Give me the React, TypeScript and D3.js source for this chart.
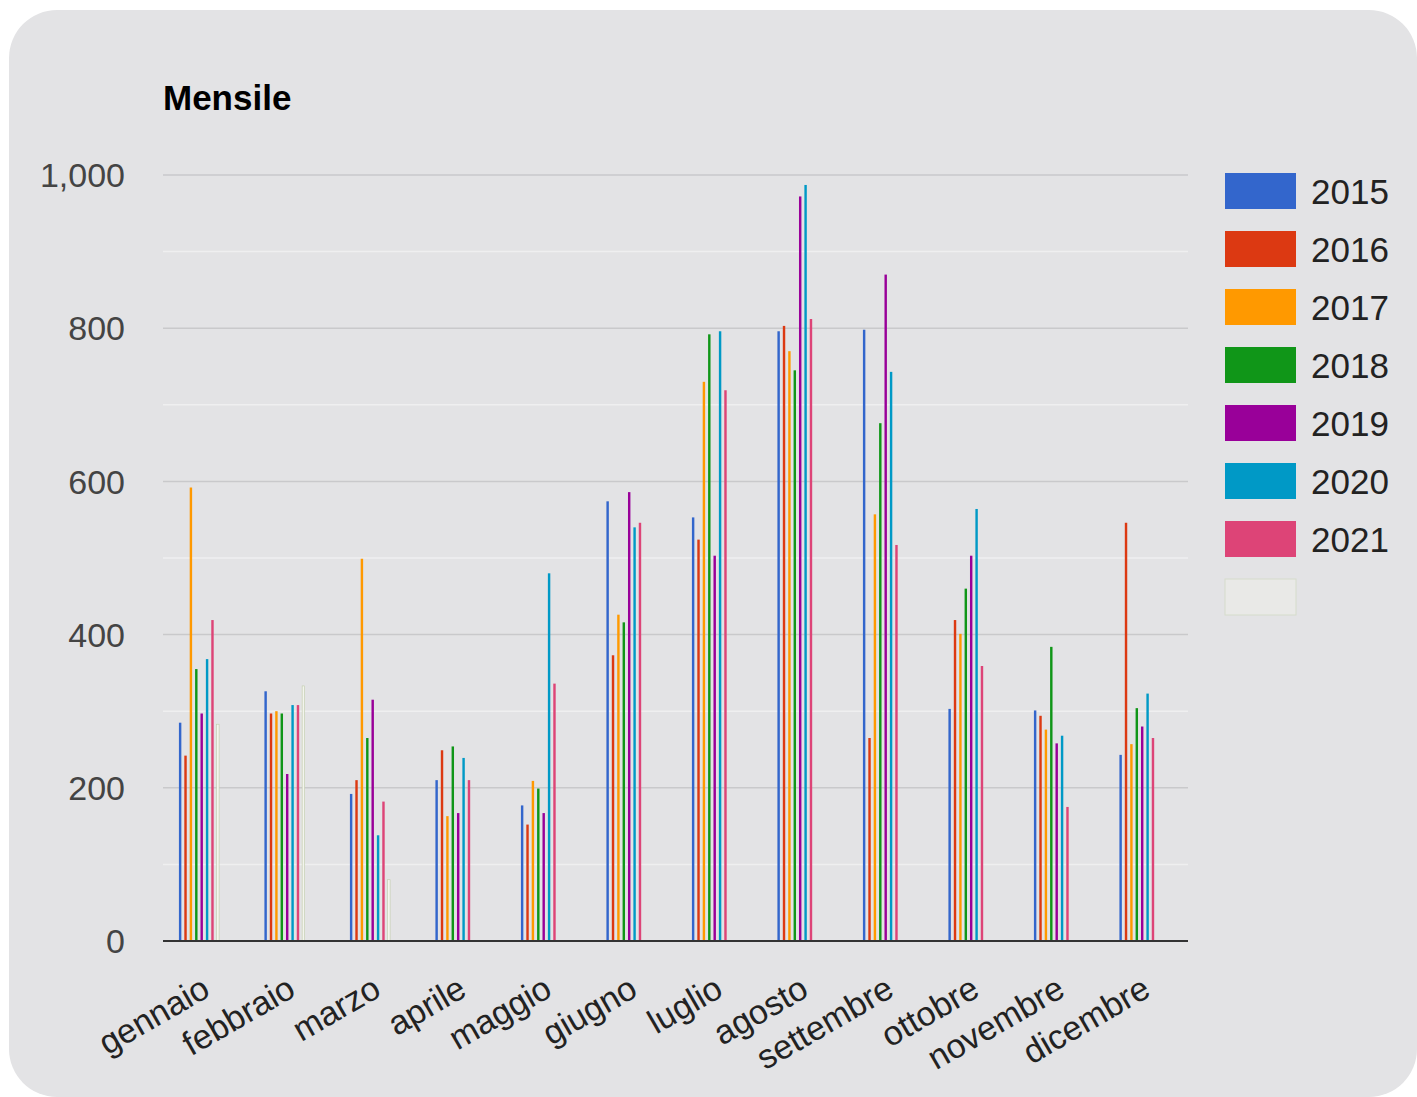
import React from "react";
import * as d3 from "d3";

const months = ["gennaio", "febbraio", "marzo", "aprile", "maggio", "giugno", "luglio", "agosto", "settembre", "ottobre", "novembre", "dicembre"];
const seriesNames = ["2015", "2016", "2017", "2018", "2019", "2020", "2021", ""];
const seriesColors = ["#3366cc", "#dc3912", "#ff9900", "#109618", "#990099", "#0099c6", "#dd4477", "#f3f4ee"];

const s2015 = [285, 326, 192, 210, 177, 574, 553, 796, 798, 303, 301, 243];
const s2016 = [242, 297, 210, 249, 152, 373, 524, 803, 265, 419, 294, 546];
const s2017 = [592, 300, 499, 163, 209, 426, 730, 770, 557, 401, 276, 257];
const s2018 = [355, 297, 265, 254, 199, 416, 792, 745, 676, 460, 384, 304];
const s2019 = [297, 218, 315, 167, 167, 586, 503, 972, 870, 503, 258, 280];
const s2020 = [368, 308, 138, 239, 480, 540, 796, 987, 743, 564, 268, 323];
const s2021 = [419, 308, 182, 210, 336, 546, 719, 812, 517, 359, 175, 265];
const s2022 = [283, 333, 80, 0, 0, 0, 0, 0, 0, 0, 0, 0];
const allSeries = [s2015, s2016, s2017, s2018, s2019, s2020, s2021, s2022];

const yTicks = [0, 200, 400, 600, 800, 1000];
const yMinorTicks = [100, 300, 500, 700, 900];

const FONT = "'Liberation Sans', Arial, sans-serif";

export default function App() {
  const W = 1417, H = 1097;
  const plotL = 163, plotR = 1188;
  const y = d3.scaleLinear().domain([0, 1000]).range([941, 175]);
  const x0 = d3.scaleBand<string>().domain(months).range([156.25, 1182.25]).paddingInner(0).paddingOuter(0);
  const innerW = 43.4;
  const x1 = d3.scaleBand<number>().domain(d3.range(allSeries.length)).range([0, innerW]).paddingInner(0.55).paddingOuter(0.3);
  const fmt = d3.format(",");

  return (
    <svg width={W} height={H} style={{ position: "absolute", left: 0, top: 0, background: "#ffffff" }}>
      <rect x={9} y={10} width={1408} height={1087} rx={48} ry={48} fill="#e3e3e5" />
      <text x={163} y={110} fontFamily={FONT} fontWeight="bold" fontSize={35} fill="#000">Mensile</text>

      {yMinorTicks.map((t) => (
        <line key={"m" + t} x1={plotL} x2={plotR} y1={y(t)} y2={y(t)} stroke="#efeff0" strokeWidth={1.5} />
      ))}
      {yTicks.filter((t) => t > 0).map((t) => (
        <line key={"g" + t} x1={plotL} x2={plotR} y1={y(t)} y2={y(t)} stroke="#c9c9cb" strokeWidth={1.5} />
      ))}
      {yTicks.map((t) => (
        <text key={"yl" + t} x={125} y={y(t)} dy="0.36em" textAnchor="end" fontFamily={FONT} fontSize={34} fill="#444">{fmt(t)}</text>
      ))}

      {months.map((m, i) => {
        const gx = (x0(m) as number) + (x0.bandwidth() - innerW) / 2;
        return (
          <g key={m}>
            {allSeries.map((s, k) => {
              const v = s[i];
              if (!v) return null;
              const bx = gx + (x1(k) as number);
              const isBlank = k === 7;
              return (
                <rect key={k} x={bx} y={y(v)} width={x1.bandwidth()} height={y(0) - y(v)}
                  fill={seriesColors[k]} stroke={isBlank ? "#bfcba8" : "none"} strokeWidth={isBlank ? 0.6 : 0} />
              );
            })}
          </g>
        );
      })}

      <line x1={plotL} x2={plotR} y1={y(0)} y2={y(0)} stroke="#333" strokeWidth={2} />

      {months.map((m) => {
        const cx = (x0(m) as number) + x0.bandwidth() / 2;
        const ax = cx + 13, ay = 995;
        return (
          <text key={"xl" + m} x={ax} y={ay} textAnchor="end" fontFamily={FONT} fontSize={34} fill="#222"
            transform={`rotate(-30 ${ax} ${ay})`}>{m}</text>
        );
      })}

      {seriesNames.map((n, k) => {
        const top = 173 + k * 58;
        return (
          <g key={"lg" + k}>
            <rect x={1225} y={top} width={71} height={36} fill={k === 7 ? "#e9e9e7" : seriesColors[k]}
              stroke={k === 7 ? "#d5dccb" : "none"} strokeWidth={k === 7 ? 1 : 0} />
            {n && (
              <text x={1311} y={top + 18} dy="0.36em" fontFamily={FONT} fontSize={35} fill="#222">{n}</text>
            )}
          </g>
        );
      })}
    </svg>
  );
}
